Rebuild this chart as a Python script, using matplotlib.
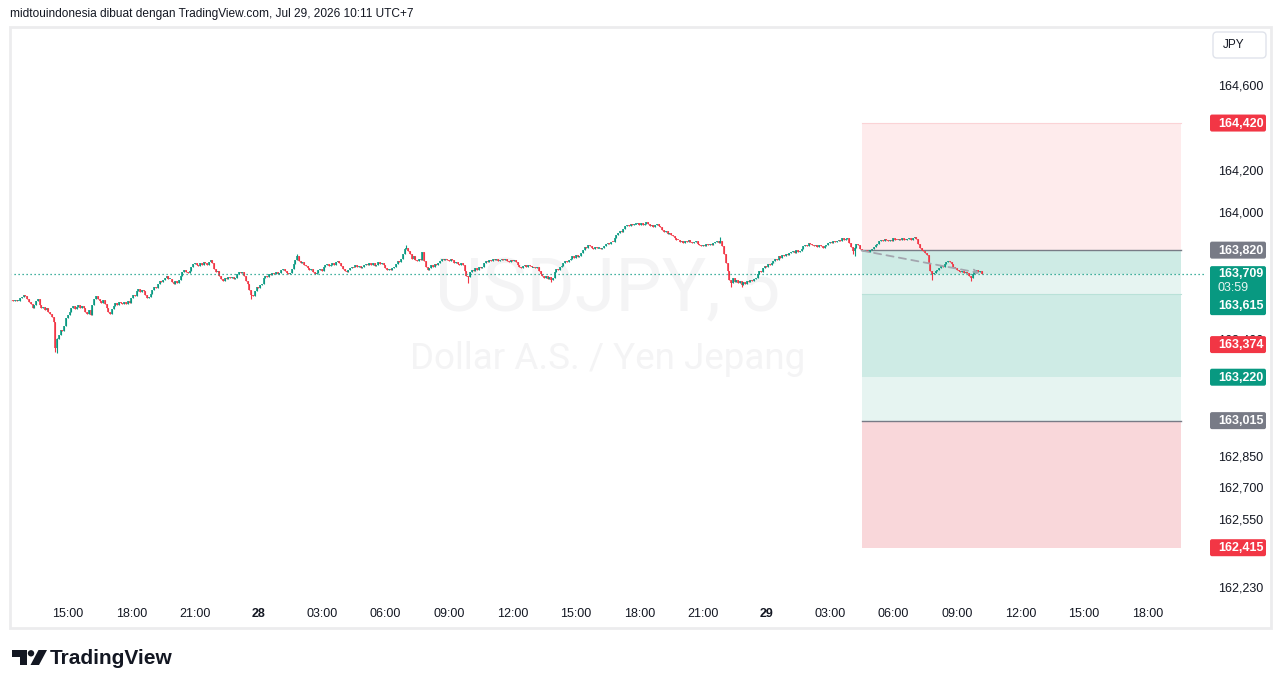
import matplotlib
matplotlib.use("Agg")
import matplotlib.pyplot as plt
import matplotlib.dates as mdates
from matplotlib.patches import Rectangle, FancyBboxPatch, Circle, Polygon
from datetime import datetime, timedelta

# ---------------- data ----------------
closes = [
    163.584, 163.580, 163.586, 163.578, 163.582,
    163.592, 163.600, 163.607, 163.604, 163.590, 163.575,
    163.565, 163.548, 163.560, 163.578, 163.590, 163.562,
    163.545, 163.552, 163.535, 163.548, 163.530, 163.520,
    163.505, 163.480, 163.360, 163.400,
    163.420, 163.445, 163.440, 163.460,
    163.500, 163.515, 163.530,
    163.545, 163.555, 163.540, 163.550,
    163.560, 163.548, 163.555, 163.545,
    163.530, 163.520, 163.535, 163.515,
    163.560, 163.590, 163.605,
    163.590, 163.580, 163.570, 163.585, 163.565,
    163.545, 163.530, 163.520, 163.540,
    163.555, 163.570, 163.560, 163.575, 163.570,
    163.565, 163.575, 163.568, 163.580, 163.572,
    163.595, 163.610, 163.605,
    163.625, 163.635, 163.620, 163.632, 163.628,
    163.610, 163.595, 163.600,
    163.615, 163.630, 163.645, 163.640,
    163.660, 163.675, 163.668, 163.680,
    163.690, 163.700, 163.685,
    163.685, 163.670, 163.660, 163.672, 163.665, 163.680,
    163.700, 163.715, 163.728,
    163.718, 163.710, 163.720,
    163.740, 163.755, 163.760, 163.750,
    163.745, 163.760, 163.752, 163.765, 163.758, 163.748,
    163.765, 163.772, 163.760,
    163.730, 163.715, 163.722,
    163.700, 163.685, 163.675, 163.690,
    163.685, 163.692, 163.688, 163.695, 163.682, 163.690,
    163.705, 163.715, 163.710, 163.718,
    163.700, 163.675, 163.660,
    163.630, 163.610, 163.605,
    163.625, 163.645, 163.640, 163.655, 163.660,
    163.690, 163.700, 163.695, 163.705, 163.702,
    163.710, 163.705, 163.715, 163.708, 163.712,
    163.725, 163.730, 163.722,
    163.712, 163.705, 163.710,
    163.730, 163.755, 163.775, 163.790,
    163.770, 163.760, 163.765, 163.750, 163.745,
    163.735, 163.725, 163.730, 163.715, 163.708, 163.712,
    163.725, 163.730, 163.722,
    163.740, 163.748, 163.755, 163.745, 163.750, 163.760, 163.752, 163.765,
    163.770, 163.760, 163.745,
    163.730, 163.722, 163.718, 163.728,
    163.735, 163.742, 163.738, 163.748, 163.740, 163.745, 163.735, 163.742, 163.750,
    163.755, 163.748, 163.760, 163.752, 163.758, 163.745, 163.750, 163.762, 163.755, 163.758, 163.750,
    163.735, 163.728, 163.732, 163.725, 163.735, 163.740,
    163.755, 163.770, 163.765, 163.780,
    163.800, 163.825, 163.830,
    163.815, 163.800, 163.780, 163.790, 163.775, 163.768,
    163.780, 163.772, 163.810,
    163.770, 163.740, 163.725,
    163.735, 163.748, 163.742, 163.755, 163.750, 163.760,
    163.770, 163.778, 163.772, 163.780, 163.775, 163.770, 163.778, 163.772,
    163.760, 163.765, 163.755, 163.750, 163.758, 163.748,
    163.720, 163.700, 163.695,
    163.715, 163.725, 163.720, 163.735, 163.728, 163.740, 163.735, 163.742,
    163.760, 163.770, 163.765, 163.775, 163.770, 163.778,
    163.772, 163.778, 163.770, 163.775, 163.780, 163.772, 163.776,
    163.770, 163.765, 163.775, 163.768, 163.772, 163.762,
    163.750, 163.740, 163.735, 163.745,
    163.748, 163.742, 163.750, 163.745,
    163.738, 163.742, 163.735, 163.740,
    163.720, 163.705, 163.698,
    163.690, 163.700, 163.685, 163.695, 163.680, 163.690,
    163.715, 163.730, 163.725, 163.740, 163.745,
    163.760, 163.770, 163.765, 163.775,
    163.780, 163.790, 163.785, 163.795, 163.788, 163.792,
    163.805, 163.820, 163.835, 163.830, 163.845, 163.840,
    163.830, 163.825, 163.835, 163.828, 163.832, 163.825, 163.830,
    163.840, 163.848, 163.855, 163.850, 163.860, 163.858,
    163.875, 163.890, 163.900, 163.910, 163.905, 163.920,
    163.935, 163.940, 163.932, 163.945, 163.938, 163.942,
    163.945, 163.950, 163.940, 163.948, 163.938, 163.945, 163.952, 163.942,
    163.935, 163.940, 163.930, 163.938, 163.945, 163.935, 163.930,
    163.915, 163.905, 163.910, 163.895, 163.900, 163.890,
    163.885, 163.878, 163.870,
    163.868, 163.860, 163.865, 163.855, 163.862, 163.858, 163.866, 163.860, 163.852, 163.858, 163.862,
    163.850, 163.845, 163.838, 163.845, 163.840, 163.848, 163.842, 163.850, 163.845, 163.852, 163.858, 163.862, 163.855,
    163.865,
    163.840, 163.800, 163.760,
    163.720, 163.680, 163.665,
    163.690, 163.670, 163.680, 163.665, 163.675, 163.655, 163.670, 163.660,
    163.675, 163.668, 163.680, 163.672, 163.685, 163.690,
    163.705, 163.720, 163.715, 163.735, 163.745, 163.740, 163.755, 163.750, 163.760,
    163.770, 163.780, 163.775, 163.790, 163.785, 163.795, 163.790, 163.800, 163.795, 163.805,
    163.810, 163.815, 163.808, 163.820, 163.812, 163.818, 163.825,
    163.838, 163.845, 163.840, 163.852, 163.848, 163.845,
    163.838, 163.845, 163.835, 163.842, 163.838, 163.832, 163.840, 163.845,
    163.852, 163.860, 163.855, 163.862, 163.858, 163.865,
    163.870, 163.865, 163.875, 163.868, 163.872, 163.878,
    163.855, 163.835, 163.815, 163.832, 163.850, 163.845,
    163.825, 163.820, 163.815, 163.822, 163.818, 163.812, 163.820, 163.825,
    163.835, 163.845, 163.850, 163.862, 163.870,
    163.865, 163.872, 163.868, 163.862, 163.870, 163.865, 163.875, 163.870, 163.866, 163.872,
    163.868, 163.875, 163.870, 163.866, 163.872, 163.878, 163.870, 163.875, 163.880, 163.872,
    163.850, 163.830, 163.822,
    163.815, 163.805, 163.795,
    163.760, 163.720, 163.705,
    163.712, 163.720, 163.728,
    163.735, 163.745, 163.740, 163.755, 163.762, 163.770, 163.765,
    163.755, 163.740, 163.735, 163.725,
    163.720, 163.715, 163.722, 163.710, 163.718, 163.712,
    163.700, 163.690, 163.705,
    163.720, 163.728, 163.715, 163.722, 163.709,
]
first_open = 163.582
last_candle_time = datetime(2026, 7, 29, 10, 10)

# candles with visible wicks beyond the body
wick_idx = [25, 26, 136, 162, 224, 259, 306, 402, 408, 414, 477, 478, 522, 544]
wick_high = [163.480, 163.405, 163.630, 163.800, 163.845, 163.700, 163.695,
             163.880, 163.680, 163.675, 163.835, 163.835, 163.720, 163.700]
wick_low = [163.340, 163.334, 163.590, 163.775, 163.825, 163.665, 163.668,
            163.855, 163.645, 163.645, 163.800, 163.790, 163.680, 163.672]

# position tool (prices)
pos_start = datetime(2026, 7, 29, 4, 30)
pos_end = datetime(2026, 7, 29, 19, 35)
stop_price = 164.420
entry_price = 163.820
current_price = 163.709
level_615 = 163.615
level_374 = 163.374
level_220 = 163.220
target_price = 163.015
stop2_price = 162.415

# projection arrow
proj_start = (datetime(2026, 7, 29, 4, 30), 163.818)
proj_end = (datetime(2026, 7, 29, 10, 5), 163.712)

# axes labels
time_ticks = [datetime(2026, 7, 27, 15), datetime(2026, 7, 27, 18), datetime(2026, 7, 27, 21),
              datetime(2026, 7, 28, 0), datetime(2026, 7, 28, 3), datetime(2026, 7, 28, 6),
              datetime(2026, 7, 28, 9), datetime(2026, 7, 28, 12), datetime(2026, 7, 28, 15),
              datetime(2026, 7, 28, 18), datetime(2026, 7, 28, 21), datetime(2026, 7, 29, 0),
              datetime(2026, 7, 29, 3), datetime(2026, 7, 29, 6), datetime(2026, 7, 29, 9),
              datetime(2026, 7, 29, 12), datetime(2026, 7, 29, 15), datetime(2026, 7, 29, 18)]
time_labels = ["15:00", "18:00", "21:00", "28", "03:00", "06:00", "09:00", "12:00", "15:00",
               "18:00", "21:00", "29", "03:00", "06:00", "09:00", "12:00", "15:00", "18:00"]
price_ticks = [164.600, 164.200, 164.000, 163.400, 162.850, 162.700, 162.550, 162.230]
price_labels = ["164,600", "164,200", "164,000", "163,400", "162,850", "162,700", "162,550", "162,230"]

header = "midtouindonesia dibuat dengan TradingView.com, Jul 29, 2026 10:11 UTC+7"
wm_symbol = "USDJPY, 5"
wm_desc = "Dollar A.S. / Yen Jepang"
countdown = "03:59"

# ---------------- styling ----------------
UP = "#089981"
DOWN = "#f23645"
GRAY = "#787b86"
TXT = "#131722"
FONT = "Liberation Sans"
W, H = 1281, 688

fig = plt.figure(figsize=(W / 100, H / 100), dpi=100)
fig.patch.set_facecolor("white")

# main pane in pixel layout: x 10..1206, y 27..600
ax = fig.add_axes([10 / W, 1 - 600 / H, 1196 / W, 573 / H])
ax.set_facecolor("white")
for s in ax.spines.values():
    s.set_visible(False)

origin = mdates.date2num(datetime(2026, 7, 27, 15, 0))
ax.set_xlim(origin - 2.730 / 24, origin + 53.77 / 24)
ax.set_ylim(162.1681, 164.8735)

# watermark
ax.text(0.5, 0.539, wm_symbol, transform=ax.transAxes, ha="center", va="center",
        fontsize=53, color="#f4f4f5", family="Roboto", zorder=0)
ax.text(0.5, 0.421, wm_desc, transform=ax.transAxes, ha="center", va="center",
        fontsize=26.5, color="#f4f4f5", family="Roboto", zorder=0)

# position tool
xs0 = mdates.date2num(pos_start)
xs1 = mdates.date2num(pos_end)
bw = xs1 - xs0
zones = [
    (entry_price, stop_price, "#feebec"),
    (current_price, entry_price, "#ceebe5"),
    (level_615, current_price, "#e6f4f1"),
    (level_220, level_615, "#ceebe5"),
    (target_price, level_220, "#e6f4f1"),
    (stop2_price, target_price, "#f9d7da"),
]
for lo, hi, col in zones:
    ax.add_patch(Rectangle((xs0, lo), bw, hi - lo, facecolor=col, edgecolor="none", zorder=1))
ax.plot([xs0, xs1], [stop_price, stop_price], color="#fbd3d6", lw=0.8, zorder=1.5)
ax.plot([xs0, xs1], [entry_price, entry_price], color=GRAY, lw=1.0, zorder=1.5)
ax.plot([xs0, xs1], [target_price, target_price], color=GRAY, lw=1.0, zorder=1.5)
ax.plot([xs0, xs1], [level_615, level_615], color="#b9e1d8", lw=0.8, zorder=1.5)

# candles
n = len(closes)
times = [last_candle_time - timedelta(minutes=5 * (n - 1 - i)) for i in range(n)]
xt = mdates.date2num(times)
opens = [first_open] + closes[:-1]
highs = [max(o, c) for o, c in zip(opens, closes)]
lows = [min(o, c) for o, c in zip(opens, closes)]
for k, i in enumerate(wick_idx):
    highs[i] = max(highs[i], wick_high[k])
    lows[i] = min(lows[i], wick_low[k])
cols = [UP if c >= o else DOWN for o, c in zip(opens, closes)]
ax.vlines(xt, lows, highs, colors=cols, lw=0.8, zorder=3)
bot = []
top = []
for o, c in zip(opens, closes):
    b, t = min(o, c), max(o, c)
    if t - b < 0.005:
        m = (t + b) / 2
        b, t = m - 0.0025, m + 0.0025
    bot.append(b)
    top.append(t)
ax.vlines(xt, bot, top, colors=cols, lw=1.15, zorder=4)

# current price dotted line
ax.axhline(current_price, color=UP, lw=0.9, dashes=(1, 2.2), zorder=5)

# projection dashed arrow
ax.annotate("", xy=(mdates.date2num(proj_end[0]), proj_end[1]),
            xytext=(mdates.date2num(proj_start[0]), proj_start[1]),
            arrowprops=dict(arrowstyle="->", color="#a3a6af", lw=1.3, linestyle=(0, (4, 3)),
                            shrinkA=0, shrinkB=0, mutation_scale=8), zorder=6)

# ticks
ax.set_xticks(mdates.date2num(time_ticks))
ax.set_xticklabels(time_labels)
for lbl, txt in zip(ax.get_xticklabels(), time_labels):
    lbl.set_family(FONT)
    lbl.set_fontsize(9)
    lbl.set_color(TXT)
    if ":" not in txt:
        lbl.set_fontweight("bold")
ax.tick_params(axis="x", length=0, pad=5.5)
ax.yaxis.tick_right()
ax.set_yticks(price_ticks)
ax.set_yticklabels(price_labels)
for lbl in ax.get_yticklabels():
    lbl.set_family(FONT)
    lbl.set_fontsize(9)
    lbl.set_color(TXT)
ax.tick_params(axis="y", length=0, pad=9)

# ---------------- overlay (pixel coords) ----------------
ov = fig.add_axes([0, 0, 1, 1], zorder=10)
ov.set_xlim(0, W)
ov.set_ylim(H, 0)
ov.axis("off")
ov.patch.set_alpha(0)


def img_y(price):
    x0 = ax.get_xlim()[0]
    return H - ax.transData.transform((x0, price))[1]


def tag(price, text, color):
    y = img_y(price)
    ov.add_patch(FancyBboxPatch((1210, y - 8.5), 56, 17,
                                boxstyle="round,pad=0,rounding_size=2",
                                facecolor=color, edgecolor="none"))
    ov.text(1218, y + 0.5, text, color="white", ha="left", va="center",
            fontsize=9, fontweight="bold", family=FONT)


tag(stop_price, "164,420", DOWN)
tag(entry_price, "163,820", GRAY)
tag(level_374, "163,374", DOWN)
tag(level_220, "163,220", UP)
tag(target_price, "163,015", GRAY)
tag(stop2_price, "162,415", DOWN)

yc = img_y(current_price)
ov.add_patch(FancyBboxPatch((1210, yc - 7.5), 56, 49,
                            boxstyle="round,pad=0,rounding_size=2",
                            facecolor=UP, edgecolor="none"))
ov.text(1218, yc + 0.5, "163,709", color="white", ha="left", va="center",
        fontsize=9, fontweight="bold", family=FONT)
ov.text(1218, yc + 14.5, countdown, color="#e6f5f1", ha="left", va="center",
        fontsize=9, family=FONT)
ov.text(1218, yc + 32, "163,615", color="white", ha="left", va="center",
        fontsize=9, fontweight="bold", family=FONT)

# JPY box
ov.add_patch(FancyBboxPatch((1213, 32), 53, 26, boxstyle="round,pad=0,rounding_size=4",
                            facecolor="white", edgecolor="#e0e3eb", lw=1))
ov.text(1223, 45.5, "JPY", ha="left", va="center", fontsize=8.5, color=TXT, family=FONT)

# frame
ov.add_patch(Rectangle((9.5, 26.5), 1261.5, 601.5, facecolor="none",
                       edgecolor="#ececee", lw=2))

# header
ov.text(10, 14, header, ha="left", va="center", fontsize=8.6, color=TXT, family=FONT)

# logo
ov.add_patch(Polygon([(12, 650), (27, 650), (27, 665), (20, 665), (20, 656.5), (12, 656.5)],
                     closed=True, facecolor=TXT, edgecolor="none"))
ov.add_patch(Circle((31, 653.3), 3.2, facecolor=TXT, edgecolor="none"))
ov.add_patch(Polygon([(38.5, 650), (47, 650), (39, 665), (30.5, 665)],
                     closed=True, facecolor=TXT, edgecolor="none"))
ov.text(50, 658, "TradingView", ha="left", va="center", fontsize=15, fontweight="bold",
        color=TXT, family=FONT)

fig.savefig("out.png", dpi=100)
